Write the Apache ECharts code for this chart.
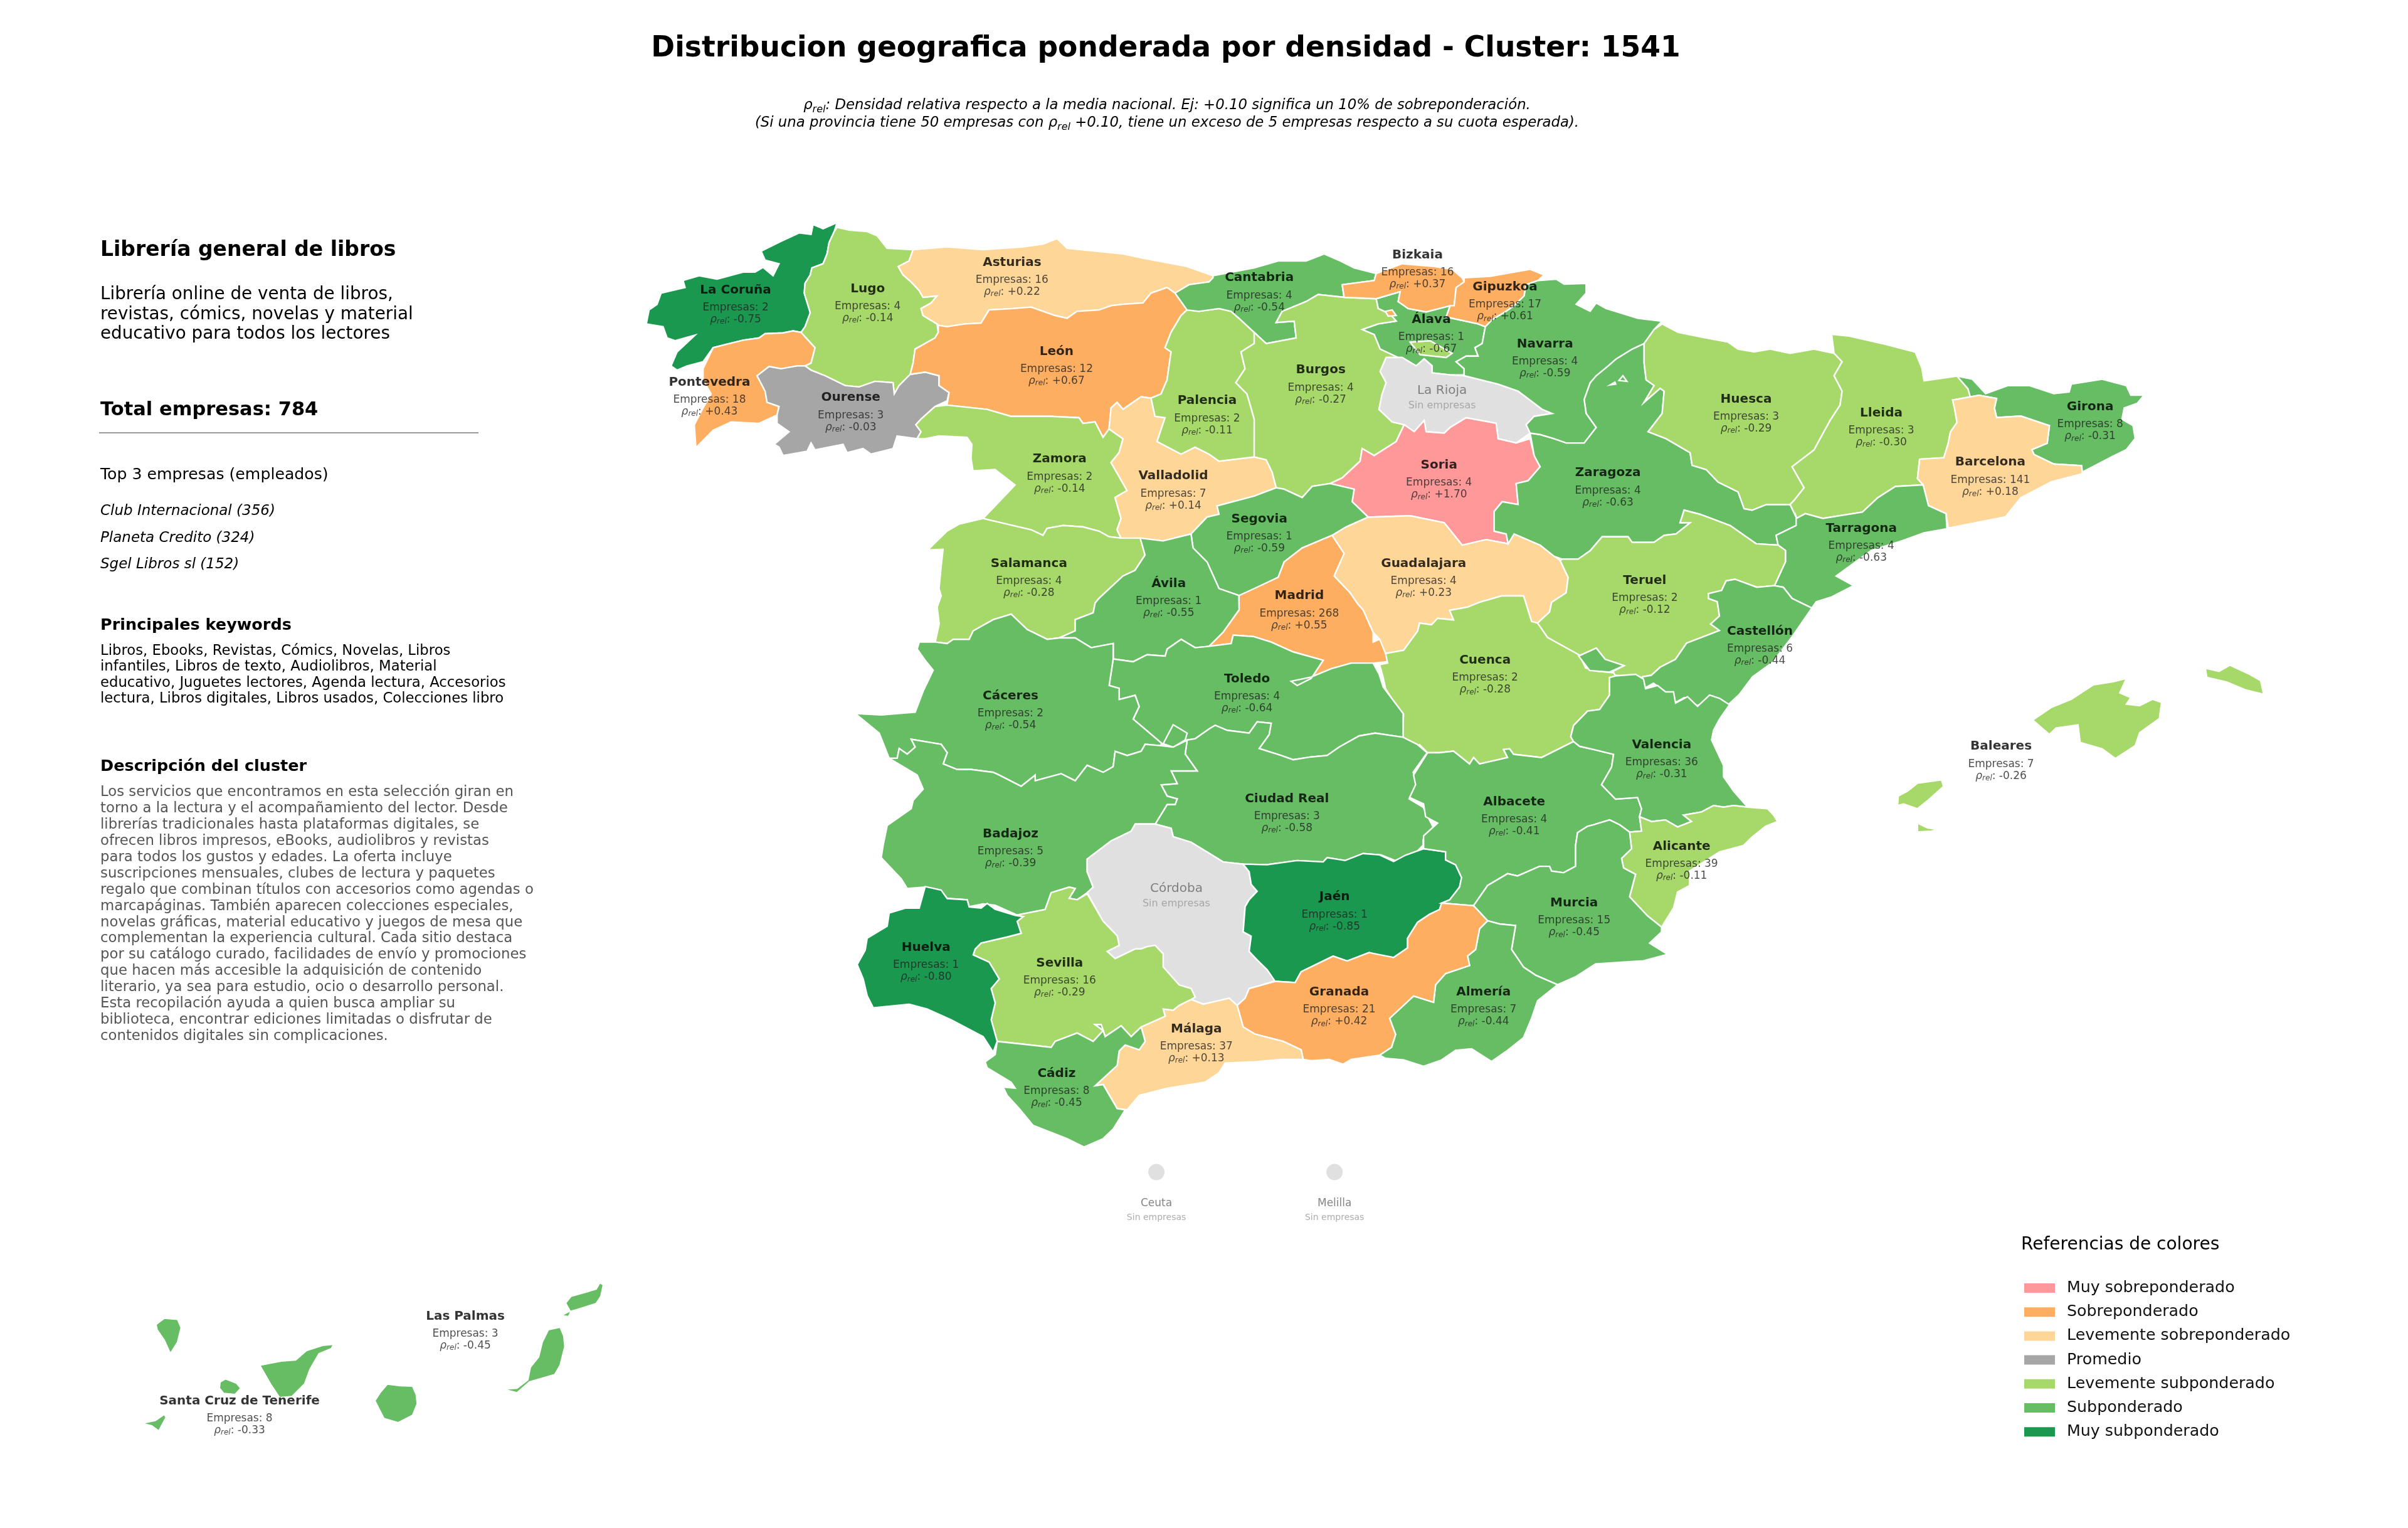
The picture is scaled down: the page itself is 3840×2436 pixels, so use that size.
<!DOCTYPE html>
<html><head><meta charset="utf-8">
<style>html,body{margin:0;padding:0;background:#fff}#c{width:3840px;height:2436px}</style>
<script src="https://cdn.jsdelivr.net/npm/echarts@6/dist/echarts.min.js"></script>
</head><body><div id="c"></div>
<script>
// ---------- data ----------
const provinces = ['La Coruña','Lugo','Asturias','León','Cantabria','Bizkaia','Gipuzkoa','Álava','Navarra','Pontevedra','Ourense','La Rioja','Burgos','Palencia','Huesca','Lleida','Girona','Barcelona','Zamora','Valladolid','Soria','Zaragoza','Segovia','Tarragona','Salamanca','Guadalajara','Teruel','Ávila','Madrid','Castellón','Cuenca','Toledo','Cáceres','Valencia','Baleares','Ciudad Real','Albacete','Badajoz','Alicante','Jaén','Córdoba','Murcia','Huelva','Sevilla','Granada','Almería','Málaga','Cádiz','Las Palmas','Santa Cruz de Tenerife','Ceuta','Melilla'];
const empresas = [2,4,16,12,4,16,17,1,4,18,3,null,4,2,3,3,8,141,2,7,4,4,1,4,4,4,2,1,268,6,2,4,2,36,7,3,4,5,39,1,null,15,1,16,21,7,37,8,3,8,null,null];
const rhoRel = [-0.75,-0.14,0.22,0.67,-0.54,0.37,0.61,-0.67,-0.59,0.43,-0.03,null,-0.27,-0.11,-0.29,-0.30,-0.31,0.18,-0.14,0.14,1.70,-0.63,-0.59,-0.63,-0.28,0.23,-0.12,-0.55,0.55,-0.44,-0.28,-0.64,-0.54,-0.31,-0.26,-0.58,-0.41,-0.39,-0.11,-0.85,null,-0.45,-0.80,-0.29,0.42,-0.44,0.13,-0.45,-0.45,-0.33,null,null];
const labelAnchors = [[479,189],[565,188],[659,171],[688,229],[820,181],[923,166],[980,187],[932,208],[1006,224],[462,249],[554,259],[939,254],[860,241],[786,261],[1137,260],[1225,269],[1361,265],[1296,301],[690,299],[764,310],[937,303],[1047,308],[820,338],[1212,344],[670,367],[927,367],[1071,378],[761,380],[846,388],[1146,411],[967,430],[812,442],[658,453],[1082,485],[1303,486],[838,520],[986,522],[658,543],[1095,551],[869,584],[766,578],[1025,588],[603,617],[690,627],[872,646],[966,646],[779,670],[688,699],[303,857],[156,912],[753,783],[869,783]];
const legendNames = ['Muy sobreponderado','Sobreponderado','Levemente sobreponderado','Promedio','Levemente subponderado','Subponderado','Muy subponderado'];
const legendColors = ['#FF9999','#FDAE61','#FED698','#A6A6A6','#A6D96A','#66BD63','#1A9850'];
const noDataColor = '#E0E0E0';
const titleText = 'Distribucion geografica ponderada por densidad - Cluster: 1541';
const descLines = ['Librería online de venta de libros,','revistas, cómics, novelas y material','educativo para todos los lectores'];
const topCompanies = ['Club Internacional (356)','Planeta Credito (324)','Sgel Libros sl (152)'];
const keywordLines = ['Libros, Ebooks, Revistas, Cómics, Novelas, Libros','infantiles, Libros de texto, Audiolibros, Material','educativo, Juguetes lectores, Agenda lectura, Accesorios','lectura, Libros digitales, Libros usados, Colecciones libro'];
const clusterLines = ['Los servicios que encontramos en esta selección giran en','torno a la lectura y el acompañamiento del lector. Desde','librerías tradicionales hasta plataformas digitales, se','ofrecen libros impresos, eBooks, audiolibros y revistas','para todos los gustos y edades. La oferta incluye','suscripciones mensuales, clubes de lectura y paquetes','regalo que combinan títulos con accesorios como agendas o','marcapáginas. También aparecen colecciones especiales,','novelas gráficas, material educativo y juegos de mesa que','complementan la experiencia cultural. Cada sitio destaca','por su catálogo curado, facilidades de envío y promociones','que hacen más accesible la adquisición de contenido','literario, ya sea para estudio, ocio o desarrollo personal.','Esta recopilación ayuda a quien busca ampliar su','biblioteca, encontrar ediciones limitadas o disfrutar de','contenidos digitales sin complicaciones.'];

// ---------- map outlines: traced boundary vertices, each run tagged by its survey frame ----------
const frames = {A:[1000,320,.6378,.4464],B:[2000,320,.6378,.4464],C:[2500,500,.7015,.5102],D:[1300,950,.6378,.4464],E:[1300,1400,.6378,.3827],F:[2200,950,.6378,.5102],G:[150,1980,.574,.333],O:[0,0,2.449,2.449]};
const outlines = {
'La Coruña':['A 525,78 518,110 505,150 500,190 490,225 462,240 458,265 445,295 443,330 458,400 445,450 435,470 415,465 390,472 345,475 330,490 290,498 250,512 215,525 190,575 150,590 125,605 110,590 125,540 170,480 120,500 100,490 90,450 48,440 55,390 75,370 85,330 145,310 140,285 180,268 225,280 290,255 320,255 340,238 365,268 380,225 345,212 335,180 385,145 430,115 460,120 465,85 490,100'],
'Pontevedra':['A 435,470 470,525 460,580 445,590 425,590 385,600 355,592 325,625 345,680 350,720 380,735 375,765 330,795 260,790 215,820 172,882 168,800 190,740 210,690 190,640 190,600 215,525 250,512 290,498 330,490 345,475 390,472 415,465'],
'Lugo':['A 525,95 555,105 600,110 625,125 650,170 715,175 705,215 678,235 690,265 710,290 730,320 740,345 775,340 760,365 735,385 740,410 775,440 778,470 770,490 720,530 715,580 708,620 680,660 668,690 665,650 620,645 580,665 545,660 495,625 460,605 445,590 460,580 470,525 435,470 445,450 458,400 443,330 445,295 458,265 462,240 490,225 500,190 505,150 518,110'],
'Ourense':['A 325,625 355,592 385,600 425,590 445,590 460,605 495,625 545,660 580,665 620,645 665,650 668,690 680,660 708,620 745,612 780,625 780,660 805,685 800,715 770,735 735,780 722,800 735,825 725,850 675,840 665,885 610,905 590,885 550,900 540,870 470,890 460,865 450,895 390,910 380,880 368,870 405,825 375,795 375,765 380,735 350,720 345,680'],
'Asturias':['A 715,175 800,165 890,175 990,165 1040,155 1075,135 1100,170 1170,180 1240,190 1290,205 1400,235 1465,268 1465,275 1455,290 1405,300 1370,330 1350,310 1310,330 1290,365 1240,370 1210,375 1180,390 1125,395 1100,420 1070,410 1040,395 1010,380 965,385 905,390 885,437 845,440 800,450 778,445 775,440 740,410 735,385 760,365 775,340 740,345 730,320 710,290 690,265 678,235 705,215'],
'León':['A 778,445 800,450 845,440 885,437 905,390 965,385 1010,380 1040,395 1070,410 1100,420 1125,395 1180,390 1210,375 1240,370 1290,365 1310,330 1350,310 1370,330 1400,390 1385,410 1360,470 1345,525 1360,540 1350,640 1335,690 1310,705 1285,700 1240,745 1225,720 1210,740 1205,815 1190,845 1170,790 1140,795 1130,775 1060,770 1020,770 960,770 900,745 800,730 805,685 780,660 780,625 745,612 708,620 715,580 720,530 770,490 778,470'],
'Zamora':['A 800,730 900,745 960,770 1020,770 1060,770 1130,775 1140,795 1170,790 1190,845 1205,815 1240,850 1230,900 1210,935 1250,1035 1220,1060 1235,1135 1225,1175 1235,1205 1205,1200 1180,1180 1140,1165 1090,1160 1050,1170 1040,1195 1010,1175 950,1155 890,1135 930,1075 970,1015 920,960 865,965 860,920 862,870 850,845 780,840 745,850 725,850 735,825 722,800 735,780 770,735'],
'Salamanca':['A 890,1135 950,1155 1010,1175 1040,1195 1050,1170 1090,1160 1140,1165 1180,1180 1205,1200 1235,1205 1283,1205 1295,1265 1270,1320 1240,1340 1180,1420 D 700,25 695,60 650,85 650,125 610,150 580,155 530,120 490,65 445,85 395,125 385,155 345,155 330,170 300,165 310,100 305,40 315,0 A 780,1385 785,1310 790,1245 752,1247 800,1180 830,1155'],
'Valladolid':['A 1210,740 1225,720 1240,745 1285,700 1310,705 1320,770 1345,775 1325,860 1385,905 1420,880 1455,905 1480,930 1568,915 B 30,925 45,970 55,1025 0,1055 A 1475,1090 1480,1120 1450,1130 1410,1190 1340,1215 1285,1205 1235,1205 1225,1175 1235,1135 1220,1060 1250,1035 1210,935 1230,900 1240,850 1205,815'],
'Palencia':['A 1385,410 1400,390 1430,395 1480,385 1510,395 1530,420 1568,470 1568,510 1535,540 1545,600 1522,650 1550,690 1568,780 1568,915 1480,930 1455,905 1420,880 1385,905 1325,860 1345,775 1320,770 1310,705 1335,690 1350,640 1360,540 1345,525 1360,470'],
'Cantabria':['A 1465,268 B 0,240 60,215 130,215 175,190 215,215 250,240 305,260 300,285 220,300 225,345 160,335 130,360 70,395 55,435 100,430 105,490 30,510 0,470 A 1530,420 1510,395 1480,385 1430,395 1400,390 1370,330 1405,300 1455,290 1465,275'],
'Álava':['B 305,350 365,325 360,360 385,385 430,397 490,375 480,415 560,440 578,450 570,510 552,525 560,555 530,555 505,575 525,600 525,622 490,622 445,615 445,590 425,565 405,590 370,560 360,560 315,530 300,478 270,460 310,440 355,430 340,405 310,385'],
'Burgos':['B 0,470 30,510 105,490 100,430 55,435 70,395 130,360 160,335 225,345 305,350 310,385 340,405 355,430 310,440 270,460 300,478 315,530 360,560 330,560 315,610 330,650 320,690 312,745 345,790 375,800 355,860 300,910 270,885 265,930 220,990 190,1010 145,1020 120,1060 75,1030 55,1025 45,970 30,925 0,915 A 1568,780 1550,690 1522,650 1545,600 1535,540 1568,510','B 390,505 440,500 495,545 480,560 415,550'],
'Bizkaia':['B 220,300 300,285 305,260 370,225 450,235 495,245 520,275 525,290 505,310 500,375 490,375 430,397 385,385 360,360 365,325 305,350 225,345','B 328,395 345,390 355,410 335,412'],
'Gipuzkoa':['B 525,275 590,270 690,245 725,265 710,285 680,300 675,340 650,375 630,395 595,425 578,450 560,440 480,415 490,375 500,375 505,310 525,290'],
'La Rioja':['B 330,560 370,560 405,590 425,565 445,590 445,615 490,622 525,625 610,655 660,680 720,745 745,760 700,770 680,800 690,830 655,865 610,850 605,795 530,775 490,810 475,830 430,825 425,785 400,825 375,800 345,790 312,745 320,690 330,650 315,610'],
'Soria':['B 375,800 400,825 425,785 430,825 475,830 490,810 530,775 605,795 610,850 655,865 690,850 700,910 715,950 685,1000 655,1010 660,1085 620,1075 600,1110 600,1180 630,1190 635,1225 580,1210 520,1230 475,1150 390,1125 285,1130 245,1075 250,1030 190,1010 220,990 265,930 270,885 300,910 355,860'],
'Segovia':['B 0,1055 55,1025 75,1030 120,1060 145,1020 190,1010 250,1030 245,1075 285,1130 230,1165 195,1195 120,1240 75,1290 60,1345 0,1390 A 1530,1410 1480,1385 1450,1290 1415,1240 1410,1190 1450,1130 1480,1120 1475,1090'],
'Ávila':['A 1283,1205 1340,1215 1410,1190 1415,1240 1450,1290 1480,1385 1530,1410 D 1060,50 1020,130 985,180 950,185 915,155 880,190 875,215 830,210 795,235 745,225 745,170 690,185 650,150 610,150 650,125 650,85 695,60 700,25 A 1180,1420 1240,1340 1270,1320 1295,1265'],
'Madrid':['B 195,1195 225,1260 200,1340 240,1400 D 1357,29 1370,50 1395,130 1395,165 1411,155 1425,180 1430,235 1395,240 1340,240 1290,260 1240,290 1190,305 1205,320 1240,295 1270,230 1195,200 1140,165 1095,145 1045,140 1040,170 985,180 1020,130 1060,50 A 1530,1410 1568,1385 B 60,1345 75,1290 120,1240'],
'Guadalajara':['B 195,1195 230,1165 285,1130 390,1125 475,1150 520,1230 580,1210 635,1225 650,1190 715,1230 765,1285 785,1345 780,1400 F 430,20 425,50 395,85 380,80 360,0 305,0 250,20 220,35 175,45 185,75 145,70 130,90 100,85 95,110 60,170 15,180 0,135 D 1395,130 1370,50 1357,29 B 240,1400 200,1340 225,1260'],
'Zaragoza':['B 690,830 715,835 750,850 780,865 825,865 855,810 830,760 825,710 840,650 855,625 885,590 905,565 945,530 975,510 975,580 980,640 1000,660 975,720 1015,670 1025,680 1020,760 985,825 1030,850 1090,900 1095,945 1130,960 1160,1005 1210,1040 1225,1100 1245,1105 1280,1085 1340,1085 1355,1130 1355,1160 1305,1195 1310,1230 1255,1225 1190,1160 1115,1120 1075,1105 1065,1150 1090,1150 1055,1190 1025,1195 1000,1220 945,1220 935,1200 870,1200 840,1250 810,1280 770,1280 750,1270 715,1230 650,1190 635,1225 630,1190 600,1180 600,1110 620,1075 660,1085 655,1010 685,1000 715,950 700,910'],
'Navarra':['B 680,300 710,285 755,280 775,298 830,295 830,330 805,370 840,395 855,365 880,385 960,420 1020,430 1000,460 975,510 945,530 905,565 885,590 855,625 840,650 825,710 830,760 855,810 825,865 780,865 750,850 715,835 690,830 680,800 700,770 745,760 720,745 660,680 610,655 525,625 525,600 505,575 530,555 560,555 552,525 570,510 578,450 595,425 630,395 650,375 675,340','B 912,642 922,625 932,645','B 890,658 902,648 904,655'],
'Huesca':['B 1020,440 1060,470 1130,490 1185,505 1210,530 1250,540 1290,530 1340,545 1400,530 1450,545 1470,575 1450,625 1470,680 1465,730 1440,785 1415,850 1400,890 1345,950 1375,1025 1350,1070 1340,1085 1280,1085 1245,1105 1225,1100 1210,1040 1160,1005 1130,960 1095,945 1090,900 1030,850 985,825 1020,760 1025,680 1015,670 975,720 1000,660 980,640 975,580 975,510 1000,460'],
'Lleida':['C 600,65 640,70 720,95 790,120 805,170 810,210 885,195 910,235 915,260 875,270 880,300 885,340 870,370 865,405 855,450 800,455 795,515 808,535 745,540 705,575 670,620 580,640 540,625 520,640 B 1355,1130 1340,1085 1350,1070 1375,1025 1345,950 1400,890 1415,850 1440,785 1465,730 1470,680 1450,625 1470,575 1450,545'],
'Girona':['C 885,195 920,205 950,250 1000,225 1050,225 1105,250 1140,245 1145,220 1215,205 1270,225 1280,255 1310,255 1295,280 1265,295 1260,330 1285,350 1290,390 1270,425 1240,445 1170,495 1168,475 1105,470 1060,440 1055,425 1090,405 1095,350 1030,320 975,325 970,295 975,265 935,255 915,260 910,235'],
'Barcelona':['C 875,270 935,255 975,265 970,295 975,325 1030,320 1095,350 1090,405 1055,425 1060,440 1105,470 1168,475 1170,500 1100,525 1030,575 995,635 865,670 860,625 820,600 808,535 795,515 800,455 855,450 865,405 870,370 885,340 880,300'],
'Tarragona':['C 520,640 540,625 580,640 670,620 705,575 745,540 808,535 820,600 860,625 862,672 810,685 760,710 690,740 650,780 610,820 650,850 600,885 565,900 555,920 510,890 490,855 470,850 495,775 495,740 B 1310,1230 1305,1195 1355,1160 1355,1130'],
'Teruel':['B 765,1285 770,1280 810,1280 840,1250 870,1200 935,1200 945,1220 1000,1220 1025,1195 1055,1190 1090,1150 1065,1150 1075,1105 1115,1120 1190,1160 1255,1225 1310,1230 C 495,740 495,775 470,850 430,855 380,830 360,835 350,865 320,875 320,890 340,900 345,945 325,970 345,990 270,1030 245,1080 210,1105 190,1130 170,1135 175,1170 165,1135 105,1130 100,1120 128,1100 85,1080 65,1045 25,1070 F 420,130 395,85 425,50 430,20 B 780,1400 785,1345'],
'Castellón':['C 320,875 350,865 360,835 380,830 430,855 470,850 490,855 510,890 555,920 510,1010 465,1090 420,1135 390,1190 365,1222 330,1195 295,1225 265,1200 245,1215 225,1185 195,1155 175,1170 170,1135 190,1130 210,1105 245,1080 270,1030 345,990 325,970 345,945 340,900 320,890'],
'Cuenca':['F 395,85 420,130 500,185 515,225 540,235 585,240 590,250 575,255 575,310 550,355 520,360 485,405 478,440 485,455 405,505 335,495 325,478 310,480 320,505 250,525 235,505 225,525 185,485 150,490 120,490 100,465 70,480 55,445 60,370 35,330 15,290 8,250 0,215 20,210 15,180 60,170 95,110 100,85 130,90 145,70 185,75 175,45 220,35 250,20 305,0 360,0 380,80'],
'Toledo':['D 745,225 795,235 830,210 875,215 880,190 915,155 950,185 985,180 1040,170 1045,140 1095,145 1140,165 1195,200 1270,230 1240,295 1205,320 1190,305 1240,290 1290,260 1340,240 1395,240 1410,280 1420,325 1470,420 1470,505 1400,490 1360,500 1310,540 1280,570 1240,575 1195,585 1165,570 1110,545 1135,495 1140,455 1105,450 1085,490 1030,480 1000,462 985,475 950,510 930,515 895,540 870,530 865,525 795,440 810,395 800,355 760,370 760,330 735,320'],
'Ciudad Real':['D 950,510 985,475 1000,462 1030,480 1085,490 1105,450 1140,455 1135,495 1110,545 1165,570 1195,585 1240,575 1280,570 1310,540 1360,500 1400,490 1470,505 1505,530 1530,560 1495,630 1505,680 1485,725 1520,755 1555,855 1520,870 1520,890 1500,920 1450,945 1415,925 1370,920 1325,945 1280,935 1270,950 1205,945 1130,960 1070,958 1020,950 940,880 895,860 890,830 850,815 880,745 900,745 905,725 880,715 865,675 905,670 890,625 955,625 925,565 930,515'],
'Cáceres':['D 300,165 330,170 345,155 385,155 395,125 445,85 490,65 530,120 580,155 610,150 650,150 690,185 745,170 745,225 735,320 760,330 760,370 800,355 810,395 795,440 865,525 865,535 825,530 815,555 780,570 750,555 745,610 720,630 680,605 650,660 615,635 550,660 550,640 515,680 460,640 445,630 390,620 355,620 320,600 330,560 315,530 240,512 250,540 230,565 210,545 205,580 185,580 160,490 100,420 165,425 250,415 270,340 295,265 275,230 255,190 260,165'],
'Badajoz':['D 185,580 205,580 210,545 230,565 250,540 240,512 315,530 330,560 320,600 355,620 390,620 445,630 460,640 515,680 550,640 550,660 615,635 650,660 680,605 720,630 745,610 750,555 780,570 815,555 825,530 865,535 895,540 930,515 925,565 955,625 890,625 905,670 865,675 880,715 905,725 900,745 880,745 850,815 800,815 790,840 740,875 680,940 680,985 695,1040 680,1060 655,1085 635,1080 650,1045 635,1040 590,1060 575,1120 505,1140 450,1105 420,1100 385,1110 380,1085 330,1080 310,1050 275,1040 230,1045 215,1010 165,935 170,890 180,820 240,760 245,730 270,690 255,640 220,610','D 870,528 895,460 930,490 925,515 895,540'],
'Córdoba':['D 800,815 850,815 890,830 895,860 940,880 1020,950 1070,958 1085,985 1090,1030 1105,1055 1085,1085 1075,1110 1070,1200 1090,1215 1085,1270 1105,1300 1130,1335 1150,1375 E 1085,460 1075,500 1055,530 1035,500 1010,510 970,525 940,505 950,495 940,460 910,445 870,370 870,315 850,280 830,285 815,295 800,295 750,335 730,305 760,280 755,240 720,180 D 680,1060 695,1040 680,985 680,940 740,875 790,840'],
'Jaén':['D 1070,958 1130,960 1205,945 1270,950 1280,935 1325,945 1370,920 1411,925 F 35,830 65,810 110,790 165,800 165,825 190,840 205,880 200,910 175,950 155,960 150,980 125,995 95,1020 70,1070 70,1100 35,1130 0,1125 E 1385,310 1330,345 1295,325 1215,390 1200,435 1150,430 D 1130,1335 1105,1300 1085,1270 1090,1215 1070,1200 1075,1110 1085,1085 1105,1055 1090,1030 1085,985'],
'Albacete':['F 120,490 150,490 185,485 225,525 235,505 250,525 320,505 310,480 325,478 335,495 405,505 485,455 500,470 535,480 585,495 580,535 555,590 590,635 645,630 655,665 650,690 655,735 625,738 600,715 575,700 535,715 520,720 495,740 490,780 490,845 460,865 430,860 425,845 400,845 345,875 320,868 270,905 235,968 155,960 175,950 200,910 205,880 190,840 165,825 165,800 110,790 110,750 145,710 115,690 110,650 75,630 90,590 85,560'],
'Valencia':['F 590,250 640,245 660,260 665,290 695,280 715,300 735,300 740,335 770,315 795,345 825,310 850,320 875,340 850,385 835,420 830,450 860,530 860,565 885,610 920,660 885,655 860,660 835,655 805,675 760,685 780,705 745,722 715,700 680,705 650,690 655,665 645,630 590,635 555,590 580,535 585,495 535,480 500,470 485,455 478,440 485,405 520,360 550,355 575,310 575,255','C 25,1070 65,1045 85,1080 128,1100 95,1120 50,1115'],
'Alicante':['F 920,660 970,665 985,685 995,705 965,720 930,755 910,780 850,800 775,860 775,905 745,925 735,975 705,1035 670,1000 625,940 640,870 610,850 605,820 630,790 625,738 655,735 650,690 680,705 715,700 745,722 780,705 760,685 805,675 835,655 860,660 885,655'],
'Murcia':['F 625,738 630,790 605,820 610,850 640,870 625,940 670,1000 705,1035 705,1050 675,1085 720,1120 660,1140 600,1145 540,1150 490,1190 445,1215 390,1185 360,1160 330,1105 340,1030 300,1025 270,1015 235,968 270,905 320,868 345,875 400,845 425,845 430,860 460,865 490,845 490,780 495,740 520,720 535,715 575,700 600,715'],
'Almería':['F 270,1015 300,1025 340,1030 330,1105 360,1160 390,1185 445,1215 395,1265 380,1320 360,1380 320,1420 280,1455 230,1415 190,1420 155,1450 110,1470 60,1450 15,1445 0,1435 30,1410 40,1370 25,1320 85,1250 135,1270 140,1215 165,1180 225,1155 220,1125 240,1105 250,1040'],
'Granada':['F 35,1130 70,1100 70,1070 95,1020 125,995 150,980 155,960 235,968 270,1015 250,1040 240,1105 220,1125 225,1155 165,1180 140,1215 135,1270 85,1250 25,1320 40,1370 30,1410 0,1435 E 1340,755 1320,775 1285,755 1240,760 1220,755 1215,715 1170,680 1100,650 1070,620 1055,530 1075,500 1085,460 1150,430 1200,435 1215,390 1295,325 1330,345 1385,310'],
'Málaga':['E 815,620 875,575 870,545 895,550 910,530 940,505 970,525 1010,510 1035,500 1055,530 1070,620 1100,650 1170,680 1215,715 1220,755 1165,755 1100,765 1025,770 1010,810 975,850 880,875 810,905 780,965 755,960 720,860 700,865 755,780 760,720 775,695 810,715 825,680'],
'Sevilla':['E 680,65 720,180 755,240 760,280 730,305 750,335 800,295 815,295 830,285 850,280 870,315 870,370 910,445 940,460 950,495 940,505 910,530 895,550 870,545 875,575 815,620 790,660 765,615 725,660 715,610 700,610 720,635 695,680 655,645 600,680 590,705 510,690 455,680 440,590 450,520 440,460 460,420 435,350 395,320 400,295 415,270 480,245 515,230 505,180 520,160 500,155 D 575,1120 590,1060 635,1040 650,1045 635,1080 655,1085'],
'Huelva':['E 275,35 315,50 330,85 380,90 385,120 415,125 430,105 450,130 500,155 520,160 505,180 515,230 480,245 415,270 400,295 395,320 435,350 460,420 440,460 450,520 440,590 455,680 445,725 420,660 340,590 280,545 235,525 145,540 130,490 120,420 105,360 125,300 130,250 180,200 185,145 225,125 260,125'],
'Cádiz':['E 455,680 510,690 590,705 600,680 655,645 695,680 720,635 700,610 715,610 725,660 765,615 790,660 815,620 825,680 810,715 775,695 760,720 755,780 700,865 720,860 755,960 775,965 745,1045 720,1085 672,1120 630,1085 545,1030 510,960 480,905 470,870 500,875 490,850 430,790 425,765 450,735'],
'Baleares':['C 1057,1270 1100,1230 1145,1205 1195,1160 1240,1150 1270,1140 1255,1185 1280,1200 1270,1220 1300,1225 1330,1205 1350,1215 1345,1265 1300,1310 1290,1350 1245,1390 1215,1360 1165,1340 1160,1285 1110,1295 1095,1315','O 1436,435 1445,437 1452,433 1465,439 1472,443 1474,452 1462,449 1450,444 1437,441','F 1297,625 1320,610 1345,585 1405,575 1410,595 1370,640 1345,665 1310,650 1295,655','F 1345,710 1370,725 1398,730 1380,735 1345,738'],
'Las Palmas':['G 780,760 795,720 815,680 850,688 885,690 895,730 898,775 885,830 845,865 805,845','G 1135,705 1175,700 1205,660 1212,600 1235,550 1245,480 1262,420 1295,408 1305,450 1308,500 1295,590 1280,635 1210,670 1175,722','G 1298,352 1322,330 1310,292 1325,260 1370,238 1395,225 1405,195 1415,205 1408,260 1395,295 1340,325 1325,332 1318,358','G 1390,185 1398,170 1398,185'],
'Santa Cruz de Tenerife':['G 172,395 195,365 232,370 242,410 232,480 212,535 195,470 175,420','G 460,590 490,580 520,570 560,565 590,520 635,495 665,490 660,510 625,535 600,610 585,680 550,740 515,745 490,680','G 350,670 365,655 395,675 408,700 392,730 360,725 348,700','G 132,868 170,855 195,825 200,840 180,905 160,880'],
'Ceuta':['E 832,1025 846,1032 840,1036'],
'Melilla':['E 1312,1075 1318,1085 1312,1088']
};
const pointMarkers = {'Ceuta':[753,763],'Melilla':[869,763]};

// ---------- helpers ----------
const H = 2436;
function toMap(frame, x, y){ const f = frames[frame]; return [f[0]+x*f[2], H-(f[1]+y*f[3])]; }
function parseRing(s){
  let fr = null; const pts = [];
  s.trim().split(/\s+/).forEach(t=>{
    if(/^[A-Z]$/.test(t)) fr = t;
    else { const p = t.split(',').map(Number); pts.push(toMap(fr,p[0],p[1])); }
  });
  pts.push(pts[0].slice());
  return pts;
}
const features = Object.keys(outlines).map(name=>({type:'Feature',properties:{name},geometry:{type:'MultiPolygon',coordinates:outlines[name].map(r=>[parseRing(r)])}}));
echarts.registerMap('spain',{type:'FeatureCollection',features});

function categoryOf(r){
  if(r==null) return -1;
  if(r>=1) return 0; if(r>=0.3) return 1; if(r>=0.1) return 2; if(r>=-0.1) return 3;
  if(r>=-0.305) return 4; if(r>-0.7) return 5; return 6;
}
const colorOf = r=>{const c=categoryOf(r);return c<0?noDataColor:legendColors[c];};
const fmt = r=>(r>=0?'+':'')+r.toFixed(2);
const FONT='"DejaVu Sans"';

const labelData = provinces.map((name,i)=>{
  const a = labelAnchors[i], small = name==='Ceuta'||name==='Melilla';
  const has = empresas[i]!=null;
  const text = has ? `{b|${name}}\n{n|Empresas: ${empresas[i]}}\n{r|ρ}{s|rel}{n|: ${fmt(rhoRel[i])}}`
    : (small?`{gs|${name}}\n{ss|Sin empresas}`:`{g|${name}}\n{sn|Sin empresas}`);
  const dy = has ? 19 : 12;
  return {name, value:[a[0]*2.449, H-(a[1]*2.449+dy)], label:{formatter:text}};
});

const texts = [];
function T(x,y,text,size,opts){ texts.push({type:'text',silent:true,style:Object.assign({x,y,text,fill:'#000',font:`${(opts&&opts.style)||''} ${(opts&&opts.weight)||''} ${size}px ${FONT}`.trim(),verticalAlign:'middle',align:'left'},(opts&&opts.extra)||{})}); }
T(160,399,'Librería general de libros',33,{weight:'bold'});
descLines.forEach((l,i)=>T(160,[470,502,533][i],l,27.8));
T(160,654,'Total empresas: 784',30.5,{weight:'bold'});
T(160,757,'Top 3 empresas (empleados)',25.2);
topCompanies.forEach((l,i)=>T(160,[815,858,900][i],l,23,{style:'italic'}));
T(160,997,'Principales keywords',25.5,{weight:'bold'});
keywordLines.forEach((l,i)=>T(160,1038+i*25.4,l,22.75));
T(160,1222,'Descripción del cluster',25.5,{weight:'bold'});
clusterLines.forEach((l,i)=>T(160,1263+i*25.95,l,22.8,{extra:{fill:'#555'}}));
T(3223,1985,'Referencias de colores',28);
texts.push({type:'line',silent:true,shape:{x1:158,y1:690,x2:763,y2:690},style:{stroke:'#999',lineWidth:2}});
const subRich = {i:{font:`italic 22.8px ${FONT}`,fill:'#000',lineHeight:30},s:{font:`italic 16px ${FONT}`,fill:'#000',verticalAlign:'bottom',lineHeight:16}};
texts.push({type:'text',silent:true,style:{x:1861,y:168,align:'center',verticalAlign:'middle',text:'{i|ρ}{s|rel}{i|: Densidad relativa respecto a la media nacional. Ej: +0.10 significa un 10% de sobreponderación.}',rich:subRich}});
texts.push({type:'text',silent:true,style:{x:1861,y:196,align:'center',verticalAlign:'middle',text:'{i|(Si una provincia tiene 50 empresas con ρ}{s|rel}{i| +0.10, tiene un exceso de 5 empresas respecto a su cuota esperada).}',rich:subRich}});

const chart = echarts.init(document.getElementById('c'),null,{renderer:'canvas'});
chart.setOption({
  backgroundColor:'#fff',animation:false,
  title:{text:titleText,left:1854,top:50,textAlign:'center',textStyle:{fontFamily:FONT,fontWeight:'bold',fontSize:45.6,color:'#000'}},
  legend:{orient:'vertical',left:3223,top:2034,itemWidth:49,itemHeight:15,itemGap:9.2,icon:'rect',selectedMode:false,data:legendNames,
    textStyle:{fontFamily:FONT,fontSize:25.3,color:'#111',padding:[0,0,0,14],lineHeight:29}},
  geo:{map:'spain',left:0,top:0,width:3840,height:2436,aspectScale:1,boundingCoords:[[0,H],[3840,0]],roam:false,silent:true,
    itemStyle:{borderColor:'#fff',borderWidth:2.4},emphasis:{disabled:true},select:{disabled:true},label:{show:false},
    regions:provinces.map((name,i)=>({name,itemStyle:{areaColor:colorOf(rhoRel[i])}}))},
  graphic:texts,
  series:[
    {type:'map',geoIndex:0,data:provinces.map((name,i)=>({name,value:rhoRel[i]}))},
    {type:'scatter',coordinateSystem:'geo',silent:true,symbolSize:26,itemStyle:{color:noDataColor,opacity:1},
      data:Object.keys(pointMarkers).map(k=>({name:k,value:[pointMarkers[k][0]*2.449,H-pointMarkers[k][1]*2.449]}))},
    {type:'scatter',coordinateSystem:'geo',silent:true,symbolSize:0,data:labelData,z:10,
      label:{show:true,position:'inside',align:'center',verticalAlign:'middle',fontFamily:FONT,
        rich:{
          b:{fontFamily:FONT,fontWeight:'bold',fontSize:20,color:'#000',lineHeight:37,align:'center'},
          n:{fontFamily:FONT,fontSize:17,color:'#222',lineHeight:19},
          r:{fontFamily:FONT,fontStyle:'italic',fontSize:17,color:'#222',lineHeight:19},
          s:{fontFamily:FONT,fontStyle:'italic',fontSize:12,color:'#222',lineHeight:12,verticalAlign:'bottom'},
          g:{fontFamily:FONT,fontSize:20,color:'#666',lineHeight:26},
          sn:{fontFamily:FONT,fontSize:16,color:'#999',lineHeight:22},
          gs:{fontFamily:FONT,fontSize:17,color:'#666',lineHeight:24},
          ss:{fontFamily:FONT,fontSize:14,color:'#999',lineHeight:22}
        }}},
  ].concat(legendNames.map((n,i)=>({type:'scatter',coordinateSystem:'geo',name:n,data:[],itemStyle:{color:legendColors[i],opacity:1}})))
});
</script></body></html>
